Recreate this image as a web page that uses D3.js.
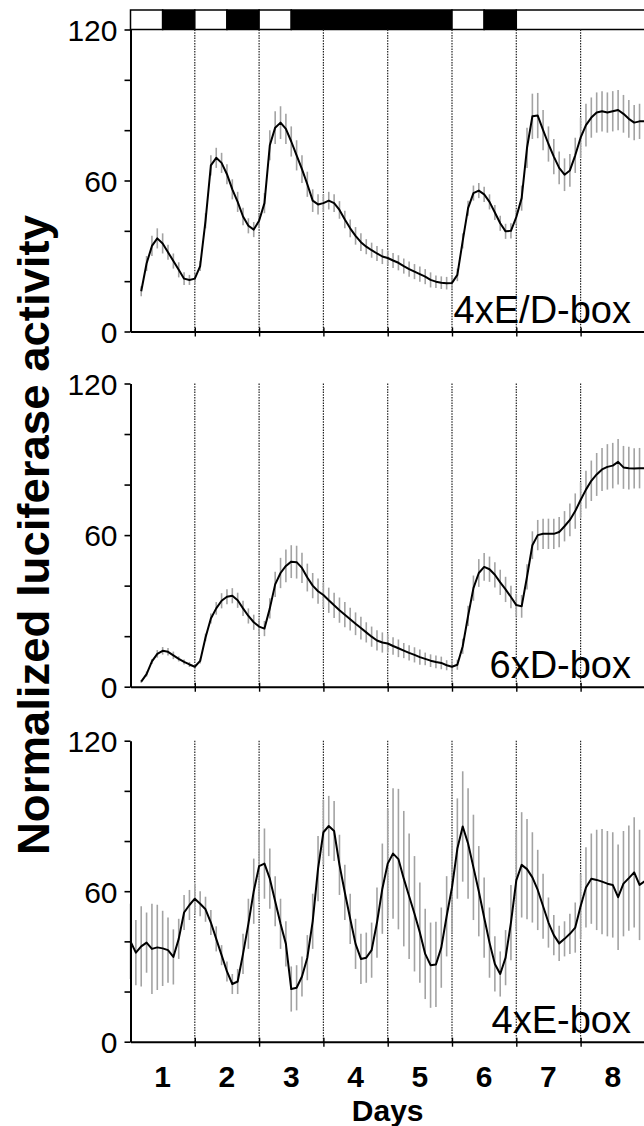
<!DOCTYPE html>
<html><head><meta charset="utf-8">
<script src="https://cdn.jsdelivr.net/npm/d3@7"></script>
<style>body{margin:0;background:#fff}svg{display:block}</style>
</head><body>
<svg id="c" width="644" height="1126"></svg>
<script>
// ---------- data ----------
const dayLabels = ["1","2","3","4","5","6","7","8"];
const dayBoundaries = [1,2,3,4,5,6,7];
const yTickValues = [0,20,40,60,80,100,120];
const yTickLabels = [0,60,120];
const lightDarkStart = [0,0.5,1,1.5,2,2.5,5,5.5,6];
const lightDarkEnd   = [0.5,1,1.5,2,2.5,5,5.5,6,8.4];
const lightDarkDark  = [false,true,false,true,false,true,false,true,false];
const panelNames = ["4xE/D-box","6xD-box","4xE-box"];
const sampleStepHours = 2;
const startHour = [4,4,0];

const edValues = [16,27,34,37,35,31.5,28,24.5,21,20.5,21,
26,44,66,69,67,62.5,56.5,51.5,45.7,42,40.5,44,
51,74,81,83,80.5,75.5,70,64.5,58.5,52,50.5,51,
52,51,48.3,44.5,41,38,35.5,33.7,32.3,31,29.8,29.2,
28.2,27.3,26,24.8,23.8,22.8,21.8,20.5,19.8,19.4,19.2,19.3,
22.5,36,49,55,56,54.5,51.5,47.3,43,39.8,40,45.5,
53,73,85.5,85.8,80,74.5,69.5,65,62.3,64,70,77,
82,85,87,87.5,87,87.5,88,86.5,84.5,83,83.5,83.5];
const edErrors = [2,3,4,4,4,3,3,3,2.5,2,2,
2,3,4,4,4,4,4,4,3.5,3,3,3,
4,6,6.5,6.5,6,6,6,5.5,5,4.5,4,3.5,
3.5,3.5,3.5,3.5,3.5,3.5,3.5,3,3,3,3,3,
3,3,3,3,3,3,3,3,2.5,2.5,2.5,2.5,
2.5,3,3,3,3,3,3,3,3,3,3,3,
5,8,9,9,8,7,7,6.5,6.5,6.5,7,8,
8.5,8,8,8,8,8,8,7.5,7.5,7,7,7];

const dValues = [2,5,10,13,14.2,13.8,12.4,11,9.8,8.8,7.9,
10.2,19.5,27,31,34,35.6,36,34.2,31,28,25.5,23.8,
23,31,40.5,45,47.8,49.5,49.3,47,43.2,40,37.8,36.3,
34.2,32.2,30.3,28.5,26.7,24.9,23.2,21.5,19.8,18.3,17.5,17.1,
16.1,15.2,14.3,13.4,12.6,11.7,11,10.3,9.8,9.4,8.5,7.9,
8.7,16,28,39,45,47.4,46.5,44.3,41.3,38.5,35.5,32.3,
31.8,43.5,56,60,60.5,60.5,60.5,61.2,63.5,66,69.5,73.9,
78,81.5,84,86,87,87.5,89,86.8,86.5,86.4,86.5,86.4];
const dErrors = [0.5,1,1,1.5,1.5,1.5,1.5,1,1,1,1,
1,1.5,2,2.5,3,3,3,3,3,3,3,3,
3,4,5,6,6.5,6.5,6.5,6,5.5,5,5,5,
5,5,5,5,4.5,4.5,4.5,4,4,4,4,3.5,
3.5,3.5,3,3,3,3,2.5,2.5,2.5,2.5,2,2,
2,3,4,5,5.5,5.5,5,5,5,5,4.5,4.5,
4.5,5,5.5,6,6,6,6,6,6,6.5,7,7,
7.5,8,8.5,8.5,9,9,9,8.5,8.5,8,8,8];

const eValues = [40,35.5,38,39.5,37,37.6,37.2,36.5,33.8,41,51.5,54.5,57,
55,52.8,47.5,41,34.5,28,23,24,35,47,60,70,
71,65,56,47,39,21,21.5,26,33.5,48,69,83.5,
86,84,70.5,59.5,49,39,33,33.5,36.5,47.5,61,71,
75,72.8,65,58,51,43.5,35,30.5,30.8,37.5,50,61.5,
77,85.8,79,69.5,60,49.5,39.5,31,27,33.5,47.5,64.3,
70.5,68.8,65.5,60.5,54,47.5,42.5,39.2,41,43,45.5,54,
61.5,65,64.5,63.8,63,62.5,57.6,63,65.2,67.5,62.5,64];
const eErrors = [15,13,16,12,18,17,15,13,11,8,7,6,6,
5,5,5,5,4,4,4,5,8,10,13,14,
14,12,10,10,9,9,9,8,9,11,13,13,
12,12,12,11,10,10,10,10,11,14,18,22,
26,28,27,25,23,20,18,17,17,16,16,18,
20,22,22,21,18,16,14,11,9,11,15,20,
21,20,18,16,13,10,8,7,7,8,10,13,
16,18,20,21,21,21,21,21,21,22,22,22];

const seriesValues = [edValues, dValues, eValues];
const seriesErrors = [edErrors, dErrors, eErrors];

// ---------- layout ----------
const svg = d3.select("#c");
const panelTop = [29.5, 383.5, 740.7];
const panelBottom = [331.5, 686.7, 1041.7];
const x = d3.scaleLinear().domain([0, 8]).range([130.5, 644.9]);
const font = "'Liberation Sans', Arial, Helvetica, sans-serif";

// light/dark bar
const ld = lightDarkStart.map((s, i) => ({s, e: lightDarkEnd[i], dark: lightDarkDark[i]}));
svg.append("g").selectAll("rect").data(ld).join("rect")
  .attr("x", d => x(d.s)).attr("width", d => x(d.e) - x(d.s))
  .attr("y", 10).attr("height", panelTop[0] - 10)
  .attr("fill", d => d.dark ? "#000" : "#fff")
  .attr("stroke", "#000").attr("stroke-width", 1.5);

panelNames.forEach((name, p) => {
  const y = d3.scaleLinear().domain([0, 120]).range([panelBottom[p], panelTop[p]]);
  const g = svg.append("g");
  const pts = seriesValues[p].map((v, i) => ({
    t: (startHour[p] + i * sampleStepHours) / 24, v, e: seriesErrors[p][i]
  }));

  // dotted day lines
  g.append("g").selectAll("line").data(dayBoundaries).join("line")
    .attr("x1", d => x(d)).attr("x2", d => x(d))
    .attr("y1", y(120)).attr("y2", y(0))
    .attr("stroke", "#222").attr("stroke-width", 1.2)
    .attr("stroke-dasharray", "1.5,1.2");

  // error bars
  g.append("g").selectAll("line").data(pts).join("line")
    .attr("x1", d => x(d.t)).attr("x2", d => x(d.t))
    .attr("y1", d => y(d.v - d.e)).attr("y2", d => y(d.v + d.e))
    .attr("stroke", "#a3a3a3").attr("stroke-width", 1.6);

  // mean line
  g.append("path").datum(pts)
    .attr("d", d3.line().x(d => x(d.t)).y(d => y(d.v)))
    .attr("fill", "none").attr("stroke", "#000").attr("stroke-width", 2)
    .attr("stroke-linejoin", "round");

  // left axis
  const ya = g.append("g").attr("transform", `translate(${x(0)},0)`)
    .call(d3.axisLeft(y).tickValues(yTickValues).tickSize(6).tickSizeOuter(0)
      .tickFormat(d => yTickLabels.includes(d) ? d : ""));
  ya.select(".domain").attr("stroke-width", 2);
  ya.selectAll(".tick line").attr("stroke-width", 1.6);
  ya.selectAll(".tick text").attr("font-family", font).attr("font-size", 30)
    .attr("fill", "#000").attr("x", -13).attr("dy", "0.36em");

  // bottom axis
  const xa = g.append("g").attr("transform", `translate(0,${y(0)})`)
    .call(d3.axisBottom(x).tickValues(dayBoundaries).tickSize(4).tickSizeOuter(0).tickFormat(""));
  xa.select(".domain").attr("stroke-width", 2);
  xa.selectAll(".tick line").attr("y1", -4).attr("y2", 5).attr("stroke-width", 1.4);

  // panel label
  g.append("text").attr("x", 631).attr("y", y(0) - 9)
    .attr("text-anchor", "end").attr("font-family", font).attr("font-size", 38)
    .attr("fill", "#000").text(name);
});

// day labels
svg.append("g").selectAll("text").data(dayLabels).join("text")
  .attr("x", (d, i) => x(i + 0.5)).attr("y", 1087)
  .attr("text-anchor", "middle").attr("font-family", font)
  .attr("font-weight", "bold").attr("font-size", 30).text(d => d);

svg.append("text").attr("x", x(4)).attr("y", 1121)
  .attr("text-anchor", "middle").attr("font-family", font)
  .attr("font-weight", "bold").attr("font-size", 30).text("Days");

// y title
svg.append("text")
  .attr("transform", "translate(49,535) rotate(-90)")
  .attr("text-anchor", "middle")
  .attr("font-family", "'Liberation Sans Narrow', 'Arial Narrow', 'Liberation Sans', Arial, sans-serif")
  .attr("font-weight", "bold").attr("font-size", 44)
  .attr("textLength", 640).attr("lengthAdjust", "spacingAndGlyphs")
  .text("Normalized luciferase activity");
</script>
</body></html>
